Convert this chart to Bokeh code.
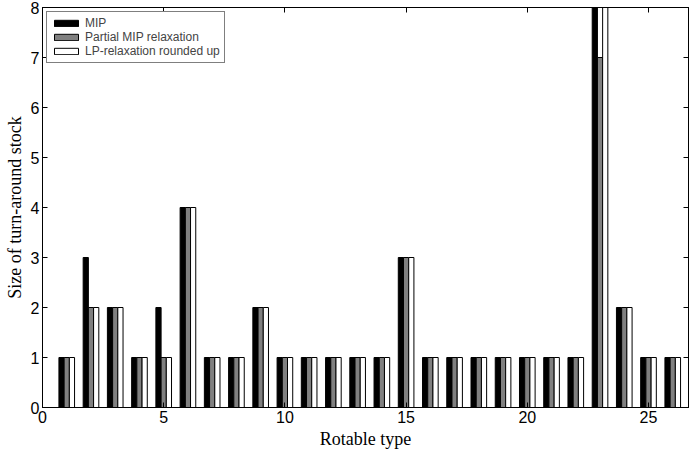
from bokeh.plotting import figure
from bokeh.models import ColumnDataSource, LinearAxis, Range1d, FixedTicker, Legend, LegendItem
from bokeh.transform import dodge
from bokeh.embed import file_html
from bokeh.resources import INLINE

rotable_type = list(range(1, 27))
mip     = [1, 3, 2, 1, 2, 4, 1, 1, 2, 1, 1, 1, 1, 1, 3, 1, 1, 1, 1, 1, 1, 1, 8, 2, 1, 1]
partial = [1, 2, 2, 1, 1, 4, 1, 1, 2, 1, 1, 1, 1, 1, 3, 1, 1, 1, 1, 1, 1, 1, 7, 2, 1, 1]
lp      = [1, 2, 2, 1, 1, 4, 1, 1, 2, 1, 1, 1, 1, 1, 3, 1, 1, 1, 1, 1, 1, 1, 8, 2, 1, 1]
series_names = ["MIP", "Partial MIP relaxation", "LP-relaxation rounded up"]
x_ticks = [0, 5, 10, 15, 20, 25]
y_ticks = [0, 1, 2, 3, 4, 5, 6, 7, 8]

src = ColumnDataSource(dict(x=rotable_type, mip=mip, partial=partial, lp=lp))

p = figure(width=690, height=453, output_backend="svg", toolbar_location=None,
           x_range=Range1d(0, 26.65), y_range=Range1d(0, 8),
           min_border_left=42, min_border_right=2, min_border_top=7, min_border_bottom=46,
           background_fill_color="white", border_fill_color="white")

bw = 0.215
r1 = p.vbar(x=dodge('x', -bw, range=p.x_range), top='mip', width=bw, source=src,
            fill_color="black", line_color="black", line_width=1)
r2 = p.vbar(x=dodge('x', 0, range=p.x_range), top='partial', width=bw, source=src,
            fill_color="#808080", line_color="black", line_width=1)
r3 = p.vbar(x=dodge('x', bw, range=p.x_range), top='lp', width=bw, source=src,
            fill_color="white", line_color="black", line_width=1)

p.xgrid.visible = False
p.ygrid.visible = False
p.outline_line_color = "black"
p.outline_line_width = 1

def style_axis(ax, ticks):
    ax.ticker = FixedTicker(ticks=ticks)
    ax.major_tick_in = 5
    ax.major_tick_out = 0
    ax.minor_tick_in = 0
    ax.minor_tick_out = 0
    ax.axis_line_color = "black"
    ax.major_tick_line_color = "black"
    ax.major_label_text_font = "Liberation Sans"
    ax.major_label_text_font_size = "16px"
    ax.major_label_text_color = "black"
    ax.major_label_standoff = 3
    ax.axis_label_text_font = "Liberation Serif"
    ax.axis_label_text_font_size = "18px"
    ax.axis_label_text_font_style = "normal"
    ax.axis_label_text_color = "black"
    ax.axis_label_standoff = 3

def mirror_axis(ticks):
    # ticks only (drawn as minor ticks so that no labels are produced)
    ax = LinearAxis(ticker=FixedTicker(ticks=[], minor_ticks=ticks))
    ax.major_tick_in = 0
    ax.major_tick_out = 0
    ax.minor_tick_in = 5
    ax.minor_tick_out = 0
    ax.minor_tick_line_color = "black"
    ax.axis_line_color = "black"
    ax.major_label_standoff = 0
    return ax

style_axis(p.xaxis[0], x_ticks)
style_axis(p.yaxis[0], y_ticks)
p.yaxis[0].axis_label_standoff = 3
p.xaxis[0].axis_label = "Rotable type"
p.yaxis[0].axis_label = "Size of turn-around stock"

p.add_layout(mirror_axis(x_ticks), "above")
p.add_layout(mirror_axis(y_ticks), "right")

legend = Legend(items=[LegendItem(label=series_names[0], renderers=[r1]),
                       LegendItem(label=series_names[1], renderers=[r2]),
                       LegendItem(label=series_names[2], renderers=[r3])],
                location="top_left")
legend.border_line_color = "black"
legend.border_line_width = 1
legend.background_fill_color = "white"
legend.background_fill_alpha = 1
legend.glyph_width = 30
legend.glyph_height = 8
legend.label_height = 14
legend.label_text_font = "Liberation Sans"
legend.label_text_font_size = "12px"
legend.label_standoff = 4
legend.padding = 4
legend.spacing = 0
legend.margin = 4
p.add_layout(legend)

open("out.html", "w").write(file_html(p, INLINE))
